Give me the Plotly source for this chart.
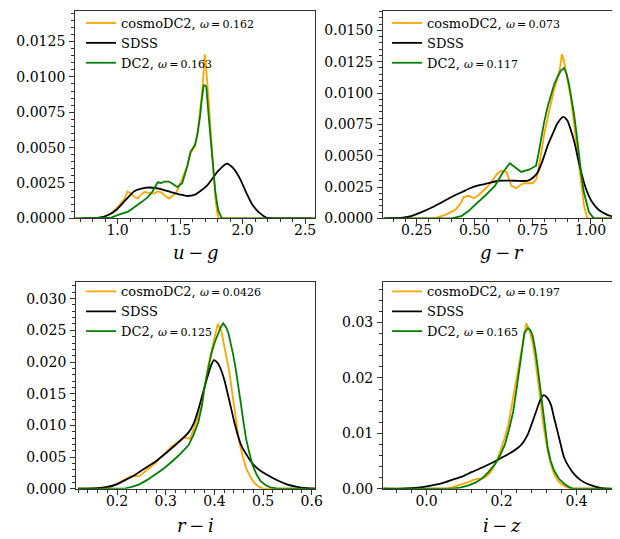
import plotly.graph_objects as go

# ---------------- data ----------------
# Panel 1: u - g
ug_sdss_x = [0.72, 0.85, 0.92, 0.99, 1.06, 1.137, 1.23, 1.32, 1.426, 1.5, 1.558, 1.62, 1.716, 1.80, 1.874, 1.93, 1.98, 2.03, 2.08, 2.14, 2.19, 2.30, 2.55]
ug_sdss_y = [0.0, 0.00005, 0.00022, 0.00059, 0.00125, 0.00193, 0.00217, 0.00212, 0.00186, 0.00168, 0.00158, 0.00168, 0.00232, 0.0033, 0.00387, 0.0035, 0.00279, 0.0018, 0.00094, 0.00035, 0.00006, 0.0, 0.0]
ug_cosmo_x = [0.66, 0.85, 0.90, 0.953, 1.0, 1.058, 1.08, 1.11, 1.135, 1.163, 1.19, 1.215, 1.25, 1.294, 1.32, 1.347, 1.38, 1.413, 1.44, 1.466, 1.505, 1.53, 1.558, 1.584, 1.62, 1.64, 1.66, 1.675, 1.689, 1.697, 1.705, 1.716, 1.73, 1.742, 1.755, 1.768, 1.782, 1.795, 1.81, 2.58]
ug_cosmo_y = [0.0, 0.0, 0.0001, 0.00036, 0.0008, 0.0014, 0.0019, 0.00175, 0.0015, 0.0014, 0.0017, 0.00186, 0.0018, 0.00175, 0.0019, 0.00186, 0.0016, 0.0014, 0.0016, 0.00175, 0.00255, 0.0031, 0.0037, 0.0046, 0.0051, 0.0060, 0.0074, 0.0088, 0.0104, 0.0116, 0.0110, 0.0100, 0.0082, 0.0065, 0.0046, 0.0030, 0.0015, 0.0005, 0.0, 0.0]
ug_dc2_x = [0.66, 0.90, 0.95, 1.005, 1.05, 1.084, 1.12, 1.163, 1.20, 1.242, 1.28, 1.321, 1.35, 1.374, 1.41, 1.44, 1.479, 1.518, 1.558, 1.584, 1.62, 1.64, 1.66, 1.675, 1.689, 1.70, 1.71, 1.729, 1.742, 1.755, 1.768, 1.782, 1.795, 1.808, 1.835, 2.58]
ug_dc2_y = [0.0, 0.0, 0.00005, 0.00024, 0.00035, 0.00047, 0.0007, 0.00094, 0.0012, 0.0015, 0.0019, 0.00255, 0.0025, 0.0026, 0.0026, 0.00244, 0.0022, 0.0025, 0.0037, 0.0047, 0.0052, 0.0060, 0.0072, 0.0085, 0.0094, 0.0094, 0.0093, 0.0072, 0.0058, 0.0042, 0.0030, 0.0019, 0.0011, 0.0005, 0.0, 0.0]

# Panel 2: g - r
gr_sdss_x = [0.11, 0.19, 0.23, 0.276, 0.32, 0.361, 0.40, 0.446, 0.48, 0.517, 0.56, 0.602, 0.673, 0.73, 0.755, 0.773, 0.795, 0.815, 0.838, 0.858, 0.882, 0.90, 0.914, 0.93, 0.943, 0.957, 0.971, 0.99, 1.014, 1.04, 1.07, 1.12]
gr_sdss_y = [0.0, 0.00005, 0.0002, 0.00053, 0.0009, 0.0013, 0.0017, 0.0021, 0.0024, 0.00263, 0.0028, 0.0030, 0.0030, 0.0030, 0.0033, 0.0037, 0.0047, 0.0058, 0.0068, 0.0076, 0.0081, 0.0078, 0.0071, 0.0061, 0.0050, 0.0039, 0.0029, 0.0019, 0.0011, 0.0006, 0.0003, 0.0]
gr_cosmo_x = [0.11, 0.33, 0.375, 0.417, 0.44, 0.453, 0.474, 0.496, 0.52, 0.56, 0.595, 0.616, 0.637, 0.65, 0.659, 0.68, 0.70, 0.716, 0.751, 0.765, 0.773, 0.787, 0.801, 0.815, 0.829, 0.843, 0.858, 0.868, 0.877, 0.885, 0.893, 0.903, 0.914, 0.925, 0.936, 0.947, 0.957, 0.971, 0.986, 1.12]
gr_cosmo_y = [0.0, 0.0, 0.0003, 0.00067, 0.0012, 0.0017, 0.0018, 0.0016, 0.0019, 0.0026, 0.0035, 0.0038, 0.0037, 0.0031, 0.0026, 0.0024, 0.0027, 0.0028, 0.0028, 0.0031, 0.0037, 0.0052, 0.0068, 0.0080, 0.0092, 0.0103, 0.0112, 0.0120, 0.0131, 0.0126, 0.0118, 0.0108, 0.0097, 0.0081, 0.0065, 0.0049, 0.0034, 0.0011, 0.0, 0.0]
gr_dc2_x = [0.11, 0.403, 0.445, 0.475, 0.503, 0.545, 0.588, 0.623, 0.652, 0.665, 0.68, 0.701, 0.737, 0.765, 0.776, 0.787, 0.80, 0.815, 0.829, 0.843, 0.858, 0.872, 0.886, 0.897, 0.907, 0.918, 0.928, 0.94, 0.95, 0.96, 0.971, 0.983, 0.993, 1.014, 1.12]
gr_dc2_y = [0.0, 0.0, 0.0002, 0.0006, 0.0011, 0.0018, 0.0026, 0.0037, 0.0044, 0.0042, 0.0040, 0.0037, 0.0039, 0.0042, 0.0052, 0.0065, 0.0077, 0.0089, 0.0099, 0.0107, 0.0113, 0.0118, 0.0120, 0.0115, 0.0107, 0.0096, 0.0084, 0.0067, 0.0050, 0.0035, 0.0021, 0.0011, 0.0005, 0.0, 0.0]

# Panel 3: r - i
ri_sdss_x = [0.12, 0.158, 0.18, 0.199, 0.22, 0.239, 0.259, 0.279, 0.30, 0.32, 0.347, 0.358, 0.367, 0.376, 0.384, 0.392, 0.399, 0.407, 0.414, 0.421, 0.427, 0.434, 0.441, 0.448, 0.455, 0.465, 0.475, 0.49, 0.508, 0.53, 0.549, 0.57, 0.59, 0.61]
ri_sdss_y = [0.0, 0.0001, 0.0003, 0.0007, 0.0015, 0.0023, 0.0033, 0.0043, 0.0056, 0.0069, 0.0089, 0.0104, 0.0125, 0.0150, 0.0172, 0.0192, 0.0203, 0.0198, 0.0187, 0.0170, 0.0151, 0.0128, 0.0105, 0.0085, 0.0069, 0.0055, 0.0043, 0.0031, 0.0022, 0.0013, 0.0007, 0.0003, 0.0001, 0.0]
ri_cosmo_x = [0.12, 0.18, 0.205, 0.22, 0.229, 0.246, 0.262, 0.279, 0.296, 0.313, 0.33, 0.337, 0.343, 0.35, 0.36, 0.367, 0.374, 0.38, 0.387, 0.394, 0.401, 0.407, 0.414, 0.421, 0.426, 0.431, 0.436, 0.441, 0.446, 0.451, 0.458, 0.465, 0.473, 0.481, 0.49, 0.50, 0.61]
ri_cosmo_y = [0.0, 0.0, 0.001, 0.0016, 0.0020, 0.0020, 0.0030, 0.0041, 0.0054, 0.0067, 0.0077, 0.0081, 0.0080, 0.0079, 0.0100, 0.0114, 0.0131, 0.0160, 0.0193, 0.0218, 0.0239, 0.0260, 0.0250, 0.0224, 0.0205, 0.0183, 0.0155, 0.0126, 0.0099, 0.0074, 0.0052, 0.0033, 0.0020, 0.0010, 0.0004, 0.0, 0.0]
ri_dc2_x = [0.12, 0.214, 0.23, 0.246, 0.262, 0.279, 0.296, 0.313, 0.33, 0.347, 0.357, 0.367, 0.374, 0.38, 0.387, 0.394, 0.401, 0.408, 0.413, 0.418, 0.424, 0.429, 0.434, 0.439, 0.444, 0.45, 0.455, 0.46, 0.465, 0.472, 0.478, 0.487, 0.495, 0.505, 0.515, 0.53, 0.61]
ri_dc2_y = [0.0, 0.0, 0.0003, 0.0007, 0.0014, 0.0023, 0.0032, 0.0043, 0.0055, 0.0069, 0.0085, 0.0105, 0.0130, 0.0162, 0.0190, 0.0214, 0.0232, 0.0245, 0.0255, 0.0261, 0.0255, 0.0245, 0.0229, 0.0210, 0.0188, 0.0160, 0.0131, 0.0104, 0.0079, 0.0056, 0.0038, 0.0022, 0.0012, 0.0006, 0.0002, 0.0, 0.0]

# Panel 4: i - z
iz_sdss_x = [-0.115, -0.063, -0.04, -0.011, 0.015, 0.042, 0.068, 0.095, 0.12, 0.147, 0.175, 0.20, 0.222, 0.244, 0.258, 0.27, 0.281, 0.292, 0.302, 0.312, 0.322, 0.332, 0.34, 0.349, 0.358, 0.367, 0.38, 0.393, 0.41, 0.428, 0.45, 0.48, 0.515]
iz_sdss_y = [0.0, 0.0, 0.0001, 0.0003, 0.0006, 0.0010, 0.0016, 0.0022, 0.0030, 0.0038, 0.0047, 0.0056, 0.0064, 0.0074, 0.0084, 0.0098, 0.0118, 0.0139, 0.0158, 0.0169, 0.0164, 0.0151, 0.0128, 0.0104, 0.0079, 0.0056, 0.0039, 0.0027, 0.0016, 0.0009, 0.0004, 0.0, 0.0]
iz_cosmo_x = [-0.115, 0.051, 0.07, 0.086, 0.10, 0.112, 0.125, 0.139, 0.155, 0.167, 0.178, 0.19, 0.20, 0.209, 0.218, 0.226, 0.235, 0.244, 0.253, 0.26, 0.266, 0.275, 0.283, 0.29, 0.297, 0.304, 0.31, 0.317, 0.323, 0.331, 0.34, 0.349, 0.358, 0.37, 0.384, 0.515]
iz_cosmo_y = [0.0, 0.0, 0.0003, 0.0006, 0.0010, 0.0012, 0.0016, 0.0018, 0.0020, 0.0027, 0.0038, 0.0055, 0.0074, 0.0093, 0.0115, 0.0145, 0.0180, 0.0215, 0.0251, 0.0280, 0.0299, 0.0285, 0.0263, 0.0232, 0.0198, 0.0158, 0.0121, 0.0092, 0.0068, 0.0045, 0.0027, 0.0016, 0.0009, 0.0004, 0.0, 0.0]
iz_dc2_x = [-0.115, 0.068, 0.09, 0.112, 0.13, 0.147, 0.165, 0.182, 0.196, 0.209, 0.22, 0.231, 0.24, 0.248, 0.255, 0.261, 0.27, 0.277, 0.283, 0.29, 0.297, 0.304, 0.31, 0.317, 0.323, 0.331, 0.34, 0.353, 0.367, 0.38, 0.392, 0.515]
iz_dc2_y = [0.0, 0.0, 0.0002, 0.0006, 0.0011, 0.0018, 0.0030, 0.0044, 0.0060, 0.0080, 0.0107, 0.0139, 0.0180, 0.0222, 0.0256, 0.0281, 0.0290, 0.0286, 0.0276, 0.0250, 0.0216, 0.0176, 0.0139, 0.0103, 0.0074, 0.0050, 0.0033, 0.0018, 0.0009, 0.0003, 0.0, 0.0]

omega_cosmo = ["0.162", "0.073", "0.0426", "0.197"]
omega_dc2 = ["0.163", "0.117", "0.125", "0.165"]
xlabels = ["<i>u</i>\u2009−\u2009<i>g</i>", "<i>g</i>\u2009−\u2009<i>r</i>",
           "<i>r</i>\u2009−\u2009<i>i</i>", "<i>i</i>\u2009−\u2009<i>z</i>"]

panels = [
    (ug_cosmo_x, ug_cosmo_y, ug_sdss_x, ug_sdss_y, ug_dc2_x, ug_dc2_y),
    (gr_cosmo_x, gr_cosmo_y, gr_sdss_x, gr_sdss_y, gr_dc2_x, gr_dc2_y),
    (ri_cosmo_x, ri_cosmo_y, ri_sdss_x, ri_sdss_y, ri_dc2_x, ri_dc2_y),
    (iz_cosmo_x, iz_cosmo_y, iz_sdss_x, iz_sdss_y, iz_dc2_x, iz_dc2_y),
]

# ---------------- layout ----------------
W, H = 620, 539
FONT = "DejaVu Serif"
ORANGE = "#FFA500"
GREEN = "#008000"

def px_x(a, b):
    return [a / W, b / W]

def px_y(top, bottom):
    return [1 - bottom / H, 1 - top / H]

xdomains = [px_x(68, 311), px_x(380, 620), px_x(69, 311), px_x(380, 620)]
ydomains = [px_y(3, 213.5), px_y(3, 213.5), px_y(278.3, 488), px_y(278.3, 488)]
xranges = [[0.661, 2.579], [0.1052, 1.127], [0.1158, 0.6067], [-0.1158, 0.5158]]
yranges = [[0, 0.01466], [0, 0.01655], [0, 0.0326], [0, 0.03728]]
xdt = [(0.5, 0.1, ".1f"), (0.25, 0.05, ".2f"), (0.1, 0.02, ".1f"), (0.2, 0.04, ".1f")]
ydt = [(0.0025, 0.0005, ".4f"), (0.0025, 0.0005, ".4f"), (0.005, 0.001, ".3f"), (0.01, 0.002, ".2f")]
legend_pos = [(74, 0), (384, 0), (74, 272.5), (384, 272.5)]
xtitle_y = [248, 248, 525, 525]

fig = go.Figure()
layout = dict(
    width=W, height=H, margin=dict(l=0, r=0, t=0, b=0),
    paper_bgcolor="white", plot_bgcolor="white",
    font=dict(family=FONT, size=14, color="black"),
    showlegend=True,
)
annotations = []

def omega(v):
    return "<span style='font-size:11px'><i>ω</i>\u2009=\u2009" + v + "</span>"

for i, (cx, cy, sx, sy, dx, dy) in enumerate(panels):
    n = "" if i == 0 else str(i + 1)
    leg = "legend" + n
    xa, ya = "x" + n, "y" + n
    fig.add_trace(go.Scatter(x=cx, y=cy, mode="lines", line=dict(color=ORANGE, width=1.8),
                             name="cosmoDC2, " + omega(omega_cosmo[i]),
                             xaxis=xa, yaxis=ya, legend=leg))
    fig.add_trace(go.Scatter(x=sx, y=sy, mode="lines", line=dict(color="black", width=1.8, shape="spline", smoothing=0.6),
                             name="SDSS", xaxis=xa, yaxis=ya, legend=leg))
    fig.add_trace(go.Scatter(x=dx, y=dy, mode="lines", line=dict(color=GREEN, width=1.8),
                             name="DC2, " + omega(omega_dc2[i]),
                             xaxis=xa, yaxis=ya, legend=leg))
    right = i in (1, 3)
    layout["xaxis" + n] = dict(
        domain=xdomains[i], range=xranges[i], anchor=ya,
        dtick=xdt[i][0], tick0=0, tickformat=xdt[i][2],
        ticks="outside", ticklen=5, tickwidth=1, tickcolor="#333",
        minor=dict(dtick=xdt[i][1], tick0=0, ticks="outside", ticklen=3, tickcolor="#333", showgrid=False),
        showline=True, linecolor="#333", linewidth=1, mirror=True,
        showgrid=False, zeroline=False, ticklabelstandoff=-6,
        tickfont=dict(family=FONT, size=14),
    )
    layout["yaxis" + n] = dict(
        domain=ydomains[i], range=yranges[i], anchor=xa,
        dtick=ydt[i][0], tick0=0, tickformat=ydt[i][2],
        ticks="outside", ticklen=5, tickwidth=1, tickcolor="#333",
        minor=dict(dtick=ydt[i][1], tick0=0, ticks="outside", ticklen=3, tickcolor="#333", showgrid=False),
        showline=True, linecolor="#333", linewidth=1, mirror=(not right),
        showgrid=False, zeroline=False, ticklabelstandoff=1,
        tickfont=dict(family=FONT, size=14),
    )
    annotations.append(dict(
        text=xlabels[i], xref=xa + " domain", x=0.5,
        yref="paper", y=1 - xtitle_y[i] / H, xanchor="center", yanchor="middle",
        showarrow=False, font=dict(family=FONT, size=18), borderpad=0,
    ))
    lx, ly = legend_pos[i]
    layout[leg] = dict(
        x=lx / W, y=1 - ly / H, xanchor="left", yanchor="top",
        bgcolor="rgba(0,0,0,0)", borderwidth=0,
        font=dict(family=FONT, size=13), tracegroupgap=0,
    )

layout["annotations"] = annotations
fig.update_layout(**layout)
fig.write_html("out.html")
